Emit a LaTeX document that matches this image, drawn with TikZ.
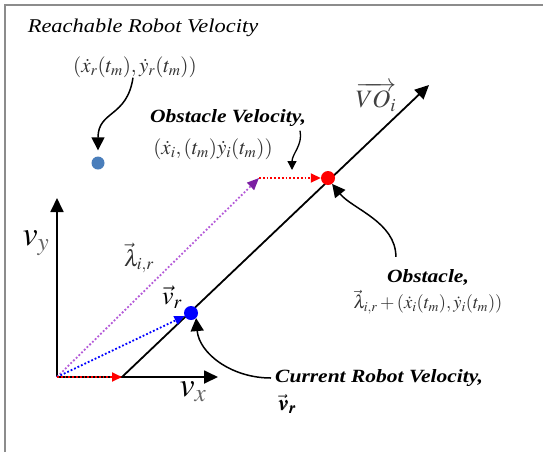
\documentclass[tikz,border=0pt]{standalone}
\usepackage{mathptmx}
\usepackage{bm}
\usepackage{fontspec}
\setmainfont{Liberation Serif}[FakeStretch=1.15]
\usetikzlibrary{arrows.meta}

\definecolor{reachblue}{HTML}{4A7EBB}
\definecolor{lampurple}{HTML}{B45AD8}
\definecolor{lamtip}{HTML}{7B1FA2}
\definecolor{framegray}{HTML}{8C8C8C}

\begin{document}
\begin{tikzpicture}[x=1pt, y=-1pt,
  every node/.style={inner sep=0pt},
  dot/.style={circle, fill=#1, minimum size=14pt},
  axis/.style={line width=1.8pt, -{Triangle[length=14pt,width=13pt]}},
  vecarrow/.style={line width=1.8pt, dotted, #1, -{Triangle[length=10pt,width=9pt]}},
  pointer/.style={line width=1.5pt, -{Triangle[length=13pt,width=13pt]}},
  title/.style={font=\fontsize{19.5}{22}\selectfont\itshape},
  caption/.style={font=\fontsize{18.7}{21}\selectfont\bfseries\itshape},
  formula/.style={font=\fontsize{21}{24}\selectfont, text=black!80},
]
\useasboundingbox (0,0) rectangle (543,456);

% ── Frame ──
\draw[framegray, line width=1.5pt] (5,452) -- (5,5) -- (543,5);

% ── Axes and VO line ──
\coordinate (O) at (57,377);
\coordinate (vyend) at (57,198);
\coordinate (vxend) at (218,377);
\coordinate (vostart) at (122,377);
\coordinate (voend) at (429,85);
\coordinate (lamend) at (259,178);

\draw[axis] (O) -- (vyend);
\draw[axis] (O) -- (vxend);
\draw[axis] (vostart) -- (voend);

% ── Points ──
\node[dot=blue] (vr) at (191,313) {};
\node[dot=red] (obs) at (328,178) {};
\node[dot=reachblue, minimum size=13pt] (reach) at (98,163) {};

% ── Velocity vectors ──
\draw[vecarrow=lampurple, -{Triangle[length=12pt,width=10pt,color=lamtip]}] (O) -- (lamend);
\draw[vecarrow=blue] (O) -- (vr);
\draw[vecarrow=red] (O) -- (vostart);
\draw[vecarrow=red] (lamend) -- (obs);

% ── Axis labels ──
\node[font=\fontsize{34}{34}\selectfont] (vylab) at (36,243) {$v_{\color{black!60}y}$};
\node[font=\fontsize{34}{34}\selectfont] (vxlab) at (193,392) {$v_{\color{black!60}x}$};
\node[font=\fontsize{25}{27}\selectfont, text=black!75] (volab) at (376,97) {$\overrightarrow{VO_i}$};
\node[font=\fontsize{23}{25}\selectfont, text=black!80] (lamlab) at (139,258) {$\vec{\lambda}_{i,r}$};
\node[font=\fontsize{26}{28}\selectfont] (vrlab) at (172,297) {$\vec{v}_r$};

% ── Reachable robot velocity ──
\node[title] (reachlab) at (143,28) {Reachable Robot Velocity};
\node[formula] (reachform) at (135,67) {$(\dot{x}_r(t_m),\dot{y}_r(t_m))$};
\draw[pointer] ([xshift=-2pt]reachform.south) .. controls +(-6,40) and +(0,-40) .. ([yshift=6pt]reach.north);

% ── Obstacle velocity ──
\node[caption] (ovlab) at (228,118) {Obstacle Velocity,};
\node[formula] (ovform) at (213,149) {$(\dot{x}_i,(t_m)\dot{y}_i(t_m))$};
\coordinate (ovtip) at (292,170);
\draw[pointer, line width=1.3pt, -{Triangle[length=9pt,width=9pt]}]
  ([xshift=-6pt,yshift=-4pt]ovlab.south east) .. controls +(3,14) and +(0,-16) .. (ovtip);

% ── Obstacle ──
\node[caption] (obslab) at (428,277) {Obstacle,};
\node[formula, font=\fontsize{18.5}{21}\selectfont] (obsform) at (428,302) {$\vec{\lambda}_{i,r}+(\dot{x}_i(t_m),\dot{y}_i(t_m))$};
\draw[pointer] ([xshift=9pt,yshift=12pt]obslab.north west) .. controls +(0,-35) and +(20,25) .. (obs.-55);

% ── Current robot velocity ──
\node[caption, anchor=west] (curlab) at (275,378) {Current Robot Velocity,};
\node[font=\fontsize{21}{23}\selectfont, anchor=west] (curvec) at (278,404) {$\bm{\vec{v}_r}$};
\draw[pointer] ([xshift=-4pt]curlab.west) .. controls +(-40,0) and +(3,35) .. (vr.-45);

\end{tikzpicture}
\end{document}
